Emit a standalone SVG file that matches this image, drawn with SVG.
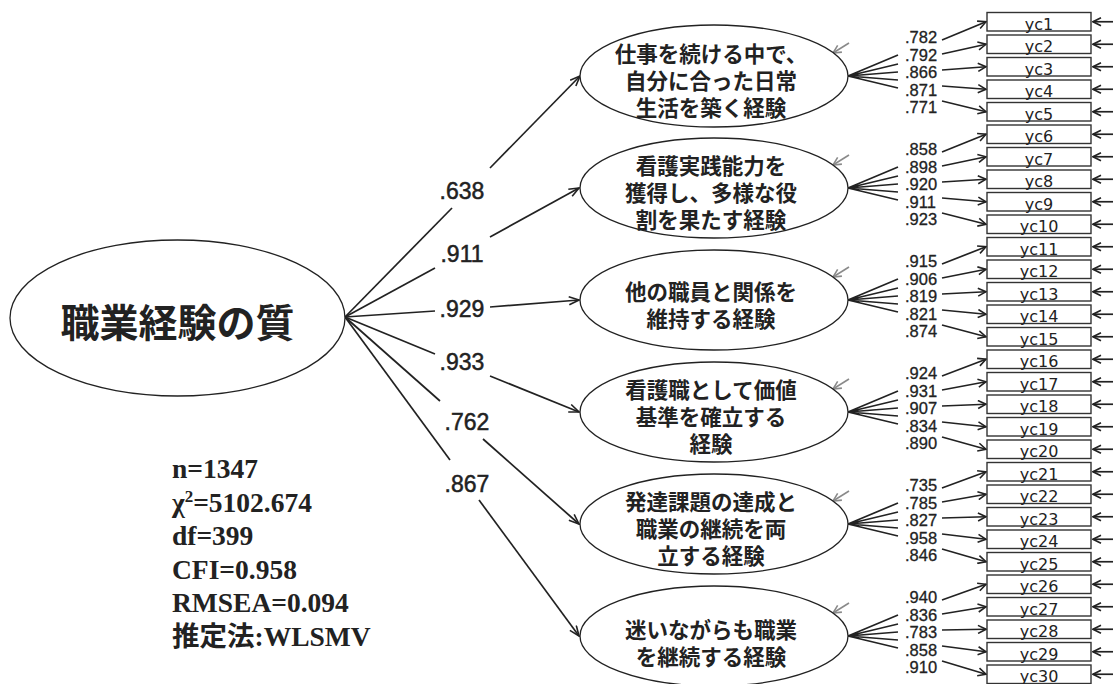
<svg xmlns="http://www.w3.org/2000/svg" width="1113" height="684" viewBox="0 0 1113 684">
<style>
.bg{fill:#fff}
.ell{fill:#fff;stroke:#222;stroke-width:1.3}
.box{fill:#fff;stroke:#333;stroke-width:1.4}
.ln{fill:none;stroke:#222;stroke-width:1.7}
.gr{fill:none;stroke:#8a8a8a;stroke-width:1.6}
.jp{font-family:"Noto Sans CJK JP","Noto Sans",sans-serif;font-size:21.5px;font-weight:700;fill:#222;text-anchor:middle}
.main{font-family:"Noto Sans CJK JP","Noto Sans",sans-serif;font-size:39px;font-weight:700;fill:#222;text-anchor:middle}
.big{font-family:"Liberation Sans",Arial,sans-serif;font-size:23px;fill:#222;stroke:#222;stroke-width:0.5;text-anchor:middle}
.sm{font-family:"Liberation Sans",Arial,sans-serif;font-size:16.5px;fill:#222;stroke:#222;stroke-width:0.3}
.yc{font-family:"DejaVu Sans",sans-serif;font-size:16px;fill:#222;text-anchor:middle}
.st{font-family:"Liberation Serif","Noto Sans CJK JP",serif;font-size:27.5px;font-weight:700;fill:#222}
</style>
<defs>
<marker id="ah" viewBox="0 0 12 10" refX="11" refY="5" markerWidth="12" markerHeight="10" markerUnits="userSpaceOnUse" orient="auto"><path d="M1,1 L11,5 L1,9" fill="none" stroke="#222" stroke-width="1.6"/></marker>
<marker id="ahs" viewBox="0 0 10 10" refX="9" refY="5" markerWidth="10" markerHeight="10" markerUnits="userSpaceOnUse" orient="auto"><path d="M1,1 L9,5 L1,9" fill="none" stroke="#222" stroke-width="1.6"/></marker>
<marker id="ahg" viewBox="0 0 10 10" refX="9" refY="5" markerWidth="10" markerHeight="10" markerUnits="userSpaceOnUse" orient="auto"><path d="M1,1 L9,5 L1,9" fill="none" stroke="#8a8a8a" stroke-width="1.6"/></marker>
</defs>
<rect class="bg" x="0" y="0" width="1113" height="684"/>

<g id="connectors">
<g id="structural">
<path class="ln" d="M345,317 L452,208"/><path class="ln" d="M490,168 L580,76" marker-end="url(#ah)"/>
<path class="ln" d="M345,317 L435,268"/><path class="ln" d="M490,237 L579,188" marker-end="url(#ah)"/>
<path class="ln" d="M345,317 L435,311"/><path class="ln" d="M490,307 L579,300" marker-end="url(#ah)"/>
<path class="ln" d="M345,317 L435,354"/><path class="ln" d="M490,376 L579,412" marker-end="url(#ah)"/>
<path class="ln" d="M345,317 L440,401"/><path class="ln" d="M483,439 L579,524" marker-end="url(#ah)"/>
<path class="ln" d="M345,317 L450,460"/><path class="ln" d="M479,500 L579,636" marker-end="url(#ah)"/>
</g>
<g id="fans">
<path class="ln" d="M848,76 L898,55 M848,76 L898,64 M848,76 L898,72 M848,76 L898,80 M848,76 L898,88"/>
<path class="ln" d="M848,188 L898,167 M848,188 L898,176 M848,188 L898,184 M848,188 L898,192 M848,188 L898,200"/>
<path class="ln" d="M848,300 L898,279 M848,300 L898,288 M848,300 L898,296 M848,300 L898,304 M848,300 L898,312"/>
<path class="ln" d="M848,412 L898,391 M848,412 L898,400 M848,412 L898,408 M848,412 L898,416 M848,412 L898,424"/>
<path class="ln" d="M848,524 L898,503 M848,524 L898,512 M848,524 L898,520 M848,524 L898,528 M848,524 L898,536"/>
<path class="ln" d="M848,636 L898,615 M848,636 L898,624 M848,636 L898,632 M848,636 L898,640 M848,636 L898,648"/>
</g>
<g id="loadings">
<path class="ln" d="M942,40 L986,21.75" marker-end="url(#ahs)"/>
<path class="ln" d="M942,54 L986,44.25" marker-end="url(#ahs)"/>
<path class="ln" d="M942,70 L986,66.75" marker-end="url(#ahs)"/>
<path class="ln" d="M942,86 L986,89.25" marker-end="url(#ahs)"/>
<path class="ln" d="M942,101 L986,111.75" marker-end="url(#ahs)"/>
<path class="ln" d="M942,152 L986,134.25" marker-end="url(#ahs)"/>
<path class="ln" d="M942,166 L986,156.75" marker-end="url(#ahs)"/>
<path class="ln" d="M942,182 L986,179.25" marker-end="url(#ahs)"/>
<path class="ln" d="M942,198 L986,201.75" marker-end="url(#ahs)"/>
<path class="ln" d="M942,213 L986,224.25" marker-end="url(#ahs)"/>
<path class="ln" d="M942,264 L986,246.75" marker-end="url(#ahs)"/>
<path class="ln" d="M942,278 L986,269.25" marker-end="url(#ahs)"/>
<path class="ln" d="M942,294 L986,291.75" marker-end="url(#ahs)"/>
<path class="ln" d="M942,310 L986,314.25" marker-end="url(#ahs)"/>
<path class="ln" d="M942,325 L986,336.75" marker-end="url(#ahs)"/>
<path class="ln" d="M942,376 L986,359.25" marker-end="url(#ahs)"/>
<path class="ln" d="M942,390 L986,381.75" marker-end="url(#ahs)"/>
<path class="ln" d="M942,406 L986,404.25" marker-end="url(#ahs)"/>
<path class="ln" d="M942,422 L986,426.75" marker-end="url(#ahs)"/>
<path class="ln" d="M942,437 L986,449.25" marker-end="url(#ahs)"/>
<path class="ln" d="M942,488 L986,471.75" marker-end="url(#ahs)"/>
<path class="ln" d="M942,502 L986,494.25" marker-end="url(#ahs)"/>
<path class="ln" d="M942,518 L986,516.75" marker-end="url(#ahs)"/>
<path class="ln" d="M942,534 L986,539.25" marker-end="url(#ahs)"/>
<path class="ln" d="M942,549 L986,561.75" marker-end="url(#ahs)"/>
<path class="ln" d="M942,600 L986,584.25" marker-end="url(#ahs)"/>
<path class="ln" d="M942,614 L986,606.75" marker-end="url(#ahs)"/>
<path class="ln" d="M942,630 L986,629.25" marker-end="url(#ahs)"/>
<path class="ln" d="M942,646 L986,651.75" marker-end="url(#ahs)"/>
<path class="ln" d="M942,661 L986,674.25" marker-end="url(#ahs)"/>
</g>
<g id="errors">
<path class="gr" d="M849,43 L833,53" marker-end="url(#ahg)"/>
<path class="gr" d="M849,155 L833,165" marker-end="url(#ahg)"/>
<path class="gr" d="M849,267 L833,277" marker-end="url(#ahg)"/>
<path class="gr" d="M849,379 L833,389" marker-end="url(#ahg)"/>
<path class="gr" d="M849,491 L833,501" marker-end="url(#ahg)"/>
<path class="gr" d="M849,603 L833,613" marker-end="url(#ahg)"/>
<path class="ln" d="M1113,21.75 L1093,21.75" marker-end="url(#ahs)"/>
<path class="ln" d="M1113,44.25 L1093,44.25" marker-end="url(#ahs)"/>
<path class="ln" d="M1113,66.75 L1093,66.75" marker-end="url(#ahs)"/>
<path class="ln" d="M1113,89.25 L1093,89.25" marker-end="url(#ahs)"/>
<path class="ln" d="M1113,111.75 L1093,111.75" marker-end="url(#ahs)"/>
<path class="ln" d="M1113,134.25 L1093,134.25" marker-end="url(#ahs)"/>
<path class="ln" d="M1113,156.75 L1093,156.75" marker-end="url(#ahs)"/>
<path class="ln" d="M1113,179.25 L1093,179.25" marker-end="url(#ahs)"/>
<path class="ln" d="M1113,201.75 L1093,201.75" marker-end="url(#ahs)"/>
<path class="ln" d="M1113,224.25 L1093,224.25" marker-end="url(#ahs)"/>
<path class="ln" d="M1113,246.75 L1093,246.75" marker-end="url(#ahs)"/>
<path class="ln" d="M1113,269.25 L1093,269.25" marker-end="url(#ahs)"/>
<path class="ln" d="M1113,291.75 L1093,291.75" marker-end="url(#ahs)"/>
<path class="ln" d="M1113,314.25 L1093,314.25" marker-end="url(#ahs)"/>
<path class="ln" d="M1113,336.75 L1093,336.75" marker-end="url(#ahs)"/>
<path class="ln" d="M1113,359.25 L1093,359.25" marker-end="url(#ahs)"/>
<path class="ln" d="M1113,381.75 L1093,381.75" marker-end="url(#ahs)"/>
<path class="ln" d="M1113,404.25 L1093,404.25" marker-end="url(#ahs)"/>
<path class="ln" d="M1113,426.75 L1093,426.75" marker-end="url(#ahs)"/>
<path class="ln" d="M1113,449.25 L1093,449.25" marker-end="url(#ahs)"/>
<path class="ln" d="M1113,471.75 L1093,471.75" marker-end="url(#ahs)"/>
<path class="ln" d="M1113,494.25 L1093,494.25" marker-end="url(#ahs)"/>
<path class="ln" d="M1113,516.75 L1093,516.75" marker-end="url(#ahs)"/>
<path class="ln" d="M1113,539.25 L1093,539.25" marker-end="url(#ahs)"/>
<path class="ln" d="M1113,561.75 L1093,561.75" marker-end="url(#ahs)"/>
<path class="ln" d="M1113,584.25 L1093,584.25" marker-end="url(#ahs)"/>
<path class="ln" d="M1113,606.75 L1093,606.75" marker-end="url(#ahs)"/>
<path class="ln" d="M1113,629.25 L1093,629.25" marker-end="url(#ahs)"/>
<path class="ln" d="M1113,651.75 L1093,651.75" marker-end="url(#ahs)"/>
<path class="ln" d="M1113,674.25 L1093,674.25" marker-end="url(#ahs)"/>
</g>
<g id="labels">
<text class="big" x="462" y="199">.638</text>
<text class="big" x="462" y="262">.911</text>
<text class="big" x="462" y="317">.929</text>
<text class="big" x="462" y="370">.933</text>
<text class="big" x="467" y="430">.762</text>
<text class="big" x="467" y="492">.867</text>
<text class="sm" x="905" y="43">.782</text><text class="sm" x="905" y="61">.792</text><text class="sm" x="905" y="78">.866</text><text class="sm" x="905" y="96">.871</text><text class="sm" x="905" y="113">.771</text>
<text class="sm" x="905" y="155">.858</text><text class="sm" x="905" y="173">.898</text><text class="sm" x="905" y="190">.920</text><text class="sm" x="905" y="208">.911</text><text class="sm" x="905" y="225">.923</text>
<text class="sm" x="905" y="267">.915</text><text class="sm" x="905" y="285">.906</text><text class="sm" x="905" y="302">.819</text><text class="sm" x="905" y="320">.821</text><text class="sm" x="905" y="337">.874</text>
<text class="sm" x="905" y="379">.924</text><text class="sm" x="905" y="397">.931</text><text class="sm" x="905" y="414">.907</text><text class="sm" x="905" y="432">.834</text><text class="sm" x="905" y="449">.890</text>
<text class="sm" x="905" y="491">.735</text><text class="sm" x="905" y="509">.785</text><text class="sm" x="905" y="526">.827</text><text class="sm" x="905" y="544">.958</text><text class="sm" x="905" y="561">.846</text>
<text class="sm" x="905" y="603">.940</text><text class="sm" x="905" y="621">.836</text><text class="sm" x="905" y="638">.783</text><text class="sm" x="905" y="656">.858</text><text class="sm" x="905" y="673">.910</text>
</g>
</g>

<g id="node-main">
<ellipse class="ell" cx="177.5" cy="318" rx="167.5" ry="78"/>
<text class="main" x="177.5" y="337">職業経験の質</text>
</g>

<g id="node-f1">
<ellipse class="ell" cx="714" cy="76" rx="134" ry="51"/>
<text class="jp" x="711" y="62">仕事を続ける中で、</text>
<text class="jp" x="711" y="89">自分に合った日常</text>
<text class="jp" x="711" y="116">生活を築く経験</text>
</g>
<g id="node-f2">
<ellipse class="ell" cx="714" cy="188" rx="134" ry="50"/>
<text class="jp" x="711" y="174">看護実践能力を</text>
<text class="jp" x="711" y="201">獲得し、多様な役</text>
<text class="jp" x="711" y="228">割を果たす経験</text>
</g>
<g id="node-f3">
<ellipse class="ell" cx="714" cy="300" rx="134" ry="50"/>
<text class="jp" x="711" y="300">他の職員と関係を</text>
<text class="jp" x="711" y="327">維持する経験</text>
</g>
<g id="node-f4">
<ellipse class="ell" cx="714" cy="412" rx="134" ry="50"/>
<text class="jp" x="711" y="398">看護職として価値</text>
<text class="jp" x="711" y="425">基準を確立する</text>
<text class="jp" x="711" y="452">経験</text>
</g>
<g id="node-f5">
<ellipse class="ell" cx="714" cy="524" rx="134" ry="50"/>
<text class="jp" x="711" y="510">発達課題の達成と</text>
<text class="jp" x="711" y="537">職業の継続を両</text>
<text class="jp" x="711" y="564">立する経験</text>
</g>
<g id="node-f6">
<ellipse class="ell" cx="714" cy="636" rx="134" ry="50"/>
<text class="jp" x="711" y="638">迷いながらも職業</text>
<text class="jp" x="711" y="665">を継続する経験</text>
</g>

<g id="items">
<g id="yc1"><rect class="box" x="987" y="12.5" width="104" height="18.5"/><text class="yc" x="1039" y="29.5">yc1</text></g>
<g id="yc2"><rect class="box" x="987" y="35" width="104" height="18.5"/><text class="yc" x="1039" y="52">yc2</text></g>
<g id="yc3"><rect class="box" x="987" y="57.5" width="104" height="18.5"/><text class="yc" x="1039" y="74.5">yc3</text></g>
<g id="yc4"><rect class="box" x="987" y="80" width="104" height="18.5"/><text class="yc" x="1039" y="97">yc4</text></g>
<g id="yc5"><rect class="box" x="987" y="102.5" width="104" height="18.5"/><text class="yc" x="1039" y="119.5">yc5</text></g>
<g id="yc6"><rect class="box" x="987" y="125" width="104" height="18.5"/><text class="yc" x="1039" y="142">yc6</text></g>
<g id="yc7"><rect class="box" x="987" y="147.5" width="104" height="18.5"/><text class="yc" x="1039" y="164.5">yc7</text></g>
<g id="yc8"><rect class="box" x="987" y="170" width="104" height="18.5"/><text class="yc" x="1039" y="187">yc8</text></g>
<g id="yc9"><rect class="box" x="987" y="192.5" width="104" height="18.5"/><text class="yc" x="1039" y="209.5">yc9</text></g>
<g id="yc10"><rect class="box" x="987" y="215" width="104" height="18.5"/><text class="yc" x="1039" y="232">yc10</text></g>
<g id="yc11"><rect class="box" x="987" y="237.5" width="104" height="18.5"/><text class="yc" x="1039" y="254.5">yc11</text></g>
<g id="yc12"><rect class="box" x="987" y="260" width="104" height="18.5"/><text class="yc" x="1039" y="277">yc12</text></g>
<g id="yc13"><rect class="box" x="987" y="282.5" width="104" height="18.5"/><text class="yc" x="1039" y="299.5">yc13</text></g>
<g id="yc14"><rect class="box" x="987" y="305" width="104" height="18.5"/><text class="yc" x="1039" y="322">yc14</text></g>
<g id="yc15"><rect class="box" x="987" y="327.5" width="104" height="18.5"/><text class="yc" x="1039" y="344.5">yc15</text></g>
<g id="yc16"><rect class="box" x="987" y="350" width="104" height="18.5"/><text class="yc" x="1039" y="367">yc16</text></g>
<g id="yc17"><rect class="box" x="987" y="372.5" width="104" height="18.5"/><text class="yc" x="1039" y="389.5">yc17</text></g>
<g id="yc18"><rect class="box" x="987" y="395" width="104" height="18.5"/><text class="yc" x="1039" y="412">yc18</text></g>
<g id="yc19"><rect class="box" x="987" y="417.5" width="104" height="18.5"/><text class="yc" x="1039" y="434.5">yc19</text></g>
<g id="yc20"><rect class="box" x="987" y="440" width="104" height="18.5"/><text class="yc" x="1039" y="457">yc20</text></g>
<g id="yc21"><rect class="box" x="987" y="462.5" width="104" height="18.5"/><text class="yc" x="1039" y="479.5">yc21</text></g>
<g id="yc22"><rect class="box" x="987" y="485" width="104" height="18.5"/><text class="yc" x="1039" y="502">yc22</text></g>
<g id="yc23"><rect class="box" x="987" y="507.5" width="104" height="18.5"/><text class="yc" x="1039" y="524.5">yc23</text></g>
<g id="yc24"><rect class="box" x="987" y="530" width="104" height="18.5"/><text class="yc" x="1039" y="547">yc24</text></g>
<g id="yc25"><rect class="box" x="987" y="552.5" width="104" height="18.5"/><text class="yc" x="1039" y="569.5">yc25</text></g>
<g id="yc26"><rect class="box" x="987" y="575" width="104" height="18.5"/><text class="yc" x="1039" y="592">yc26</text></g>
<g id="yc27"><rect class="box" x="987" y="597.5" width="104" height="18.5"/><text class="yc" x="1039" y="614.5">yc27</text></g>
<g id="yc28"><rect class="box" x="987" y="620" width="104" height="18.5"/><text class="yc" x="1039" y="637">yc28</text></g>
<g id="yc29"><rect class="box" x="987" y="642.5" width="104" height="18.5"/><text class="yc" x="1039" y="659.5">yc29</text></g>
<g id="yc30"><rect class="box" x="987" y="665" width="104" height="18.5"/><text class="yc" x="1039" y="682">yc30</text></g>
</g>

<g id="fit-stats">
<text class="st" x="172" y="478">n=1347</text>
<text class="st" x="172" y="512">χ<tspan font-size="17" dy="-10">2</tspan><tspan dy="10">=5102.674</tspan></text>
<text class="st" x="172" y="545">df=399</text>
<text class="st" x="172" y="579">CFI=0.958</text>
<text class="st" x="172" y="612">RMSEA=0.094</text>
<text class="st" x="172" y="646">推定法:WLSMV</text>
</g>
</svg>
